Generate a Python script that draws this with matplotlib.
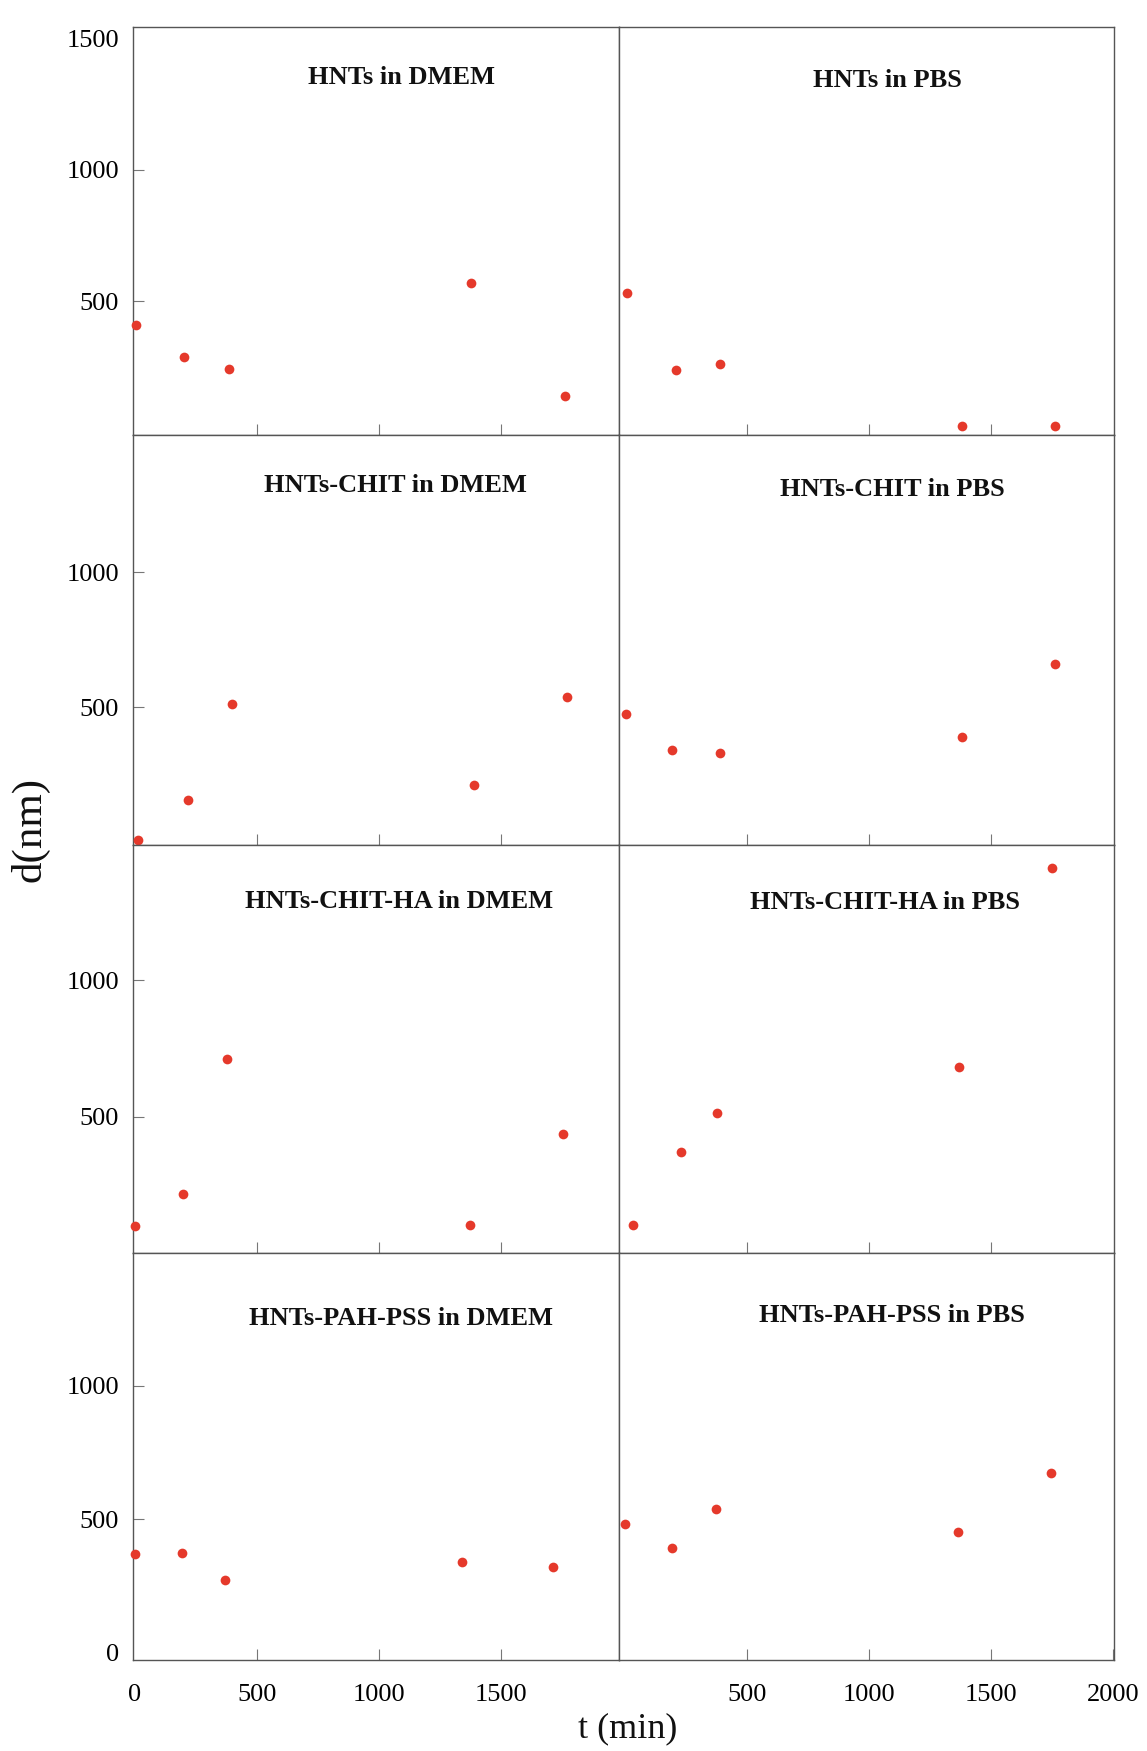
import matplotlib
matplotlib.use('Agg')
import matplotlib.pyplot as plt

plt.rcParams['font.family'] = ['Liberation Serif', 'DejaVu Serif']

# ---------------- data ----------------
titles = [
    "HNTs in DMEM", "HNTs in PBS",
    "HNTs-CHIT in DMEM", "HNTs-CHIT in PBS",
    "HNTs-CHIT-HA in DMEM", "HNTs-CHIT-HA in PBS",
    "HNTs-PAH-PSS in DMEM", "HNTs-PAH-PSS in PBS",
]

hnts_dmem_t = [6, 204, 387, 1379, 1763]
hnts_dmem_d = [408, 285, 242, 567, 137]
hnts_pbs_t = [9, 209, 389, 1383, 1762]
hnts_pbs_d = [529, 235, 261, 23, 23]

chit_dmem_t = [14, 217, 398, 1390, 1771]
chit_dmem_d = [8, 157, 513, 211, 538]
chit_pbs_t = [4, 193, 390, 1383, 1763]
chit_pbs_d = [474, 343, 330, 389, 659]

chitha_dmem_t = [0, 198, 379, 1374, 1755]
chitha_dmem_d = [100, 217, 711, 101, 436]
chitha_pbs_t = [34, 228, 377, 1367, 1750]
chitha_pbs_d = [104, 371, 513, 683, 1413]

pahpss_dmem_t = [0, 195, 371, 1341, 1714]
pahpss_dmem_d = [370, 372, 272, 338, 321]
pahpss_pbs_t = [1, 193, 374, 1364, 1744]
pahpss_pbs_d = [480, 390, 536, 453, 672]

series_t = [hnts_dmem_t, hnts_pbs_t, chit_dmem_t, chit_pbs_t,
            chitha_dmem_t, chitha_pbs_t, pahpss_dmem_t, pahpss_pbs_t]
series_d = [hnts_dmem_d, hnts_pbs_d, chit_dmem_d, chit_pbs_d,
            chitha_dmem_d, chitha_pbs_d, pahpss_dmem_d, pahpss_pbs_d]

x_ticks = [500, 1000, 1500]
x_ticklabels_left = ["0", "500", "1000", "1500"]
x_ticklabels_right = ["500", "1000", "1500", "2000"]

# ---------------- layout ----------------
W, H = 1147, 1751
fig = plt.figure(figsize=(W / 100, H / 100), dpi=100)

col_px = [(133, 619), (619, 1114)]
row_px = [(27, 435), (435, 845), (845, 1253), (1253, 1660)]
row_ylim = [(-11, 1545), (-10, 1508), (0, 1497), (-28, 1497)]
col_xlim = [(-7, 1985), (-25, 2004)]
title_pos = [(0.553, 0.876), (0.543, 0.870),
             (0.539, 0.876), (0.553, 0.866),
             (0.547, 0.861), (0.537, 0.860),
             (0.551, 0.838), (0.552, 0.847)]

spine_col = '#555555'
tick_col = '#777777'
dot_col = '#e5392b'

for i in range(8):
    r, c = divmod(i, 2)
    x0, x1 = col_px[c]
    y0, y1 = row_px[r]
    ax = fig.add_axes([x0 / W, 1 - y1 / H, (x1 - x0) / W, (y1 - y0) / H])
    ax.set_xlim(*col_xlim[c])
    ax.set_ylim(*row_ylim[r])
    ax.plot(series_t[i], series_d[i], 'o', color=dot_col, ms=7,
            mec='none', clip_on=False, zorder=3)
    for s in ax.spines.values():
        s.set_color(spine_col)
        s.set_linewidth(1.0)

    ax.tick_params(direction='in', length=8, width=0.8, color=tick_col,
                   labelsize=19, top=False, right=False)
    # x ticks
    if r == 3:
        if c == 0:
            ax.set_xticks([0] + x_ticks)
            ax.set_xticklabels(x_ticklabels_left)
        else:
            ax.set_xticks(x_ticks + [2000])
            ax.set_xticklabels(x_ticklabels_right)
        ax.tick_params(axis='x', pad=17)
    else:
        ax.set_xticks(x_ticks)
        ax.set_xticklabels([])
    # y ticks
    if c == 0:
        if r == 0:
            ax.set_yticks([500, 1000, 1500])
            ax.set_yticklabels(["500", "1000", "1500"])
            ax.yaxis.get_major_ticks()[-1].tick1line.set_visible(False)
        elif r == 3:
            ax.set_yticks([0, 500, 1000])
            ax.set_yticklabels(["0", "500", "1000"])
            ax.yaxis.get_major_ticks()[0].tick1line.set_visible(False)
        else:
            ax.set_yticks([500, 1000])
            ax.set_yticklabels(["500", "1000"])
        ax.tick_params(axis='y', pad=10)
    else:
        ax.set_yticks([])
    if r == 3 and c == 0:
        ax.xaxis.get_major_ticks()[0].tick1line.set_visible(False)

    tx, ty = title_pos[i]
    ax.text(tx, ty, titles[i], transform=ax.transAxes, ha='center',
            va='center', fontsize=19, fontweight='bold', color='#111111')

fig.text(30 / W, 1 - 829 / H, 'd(nm)', rotation=90, ha='center',
         va='center', fontsize=31, color='#111111')
fig.text(628 / W, 1 - 1729 / H, 't (min)', ha='center', va='center',
         fontsize=26, color='#111111')

fig.savefig('out.png', dpi=100)
